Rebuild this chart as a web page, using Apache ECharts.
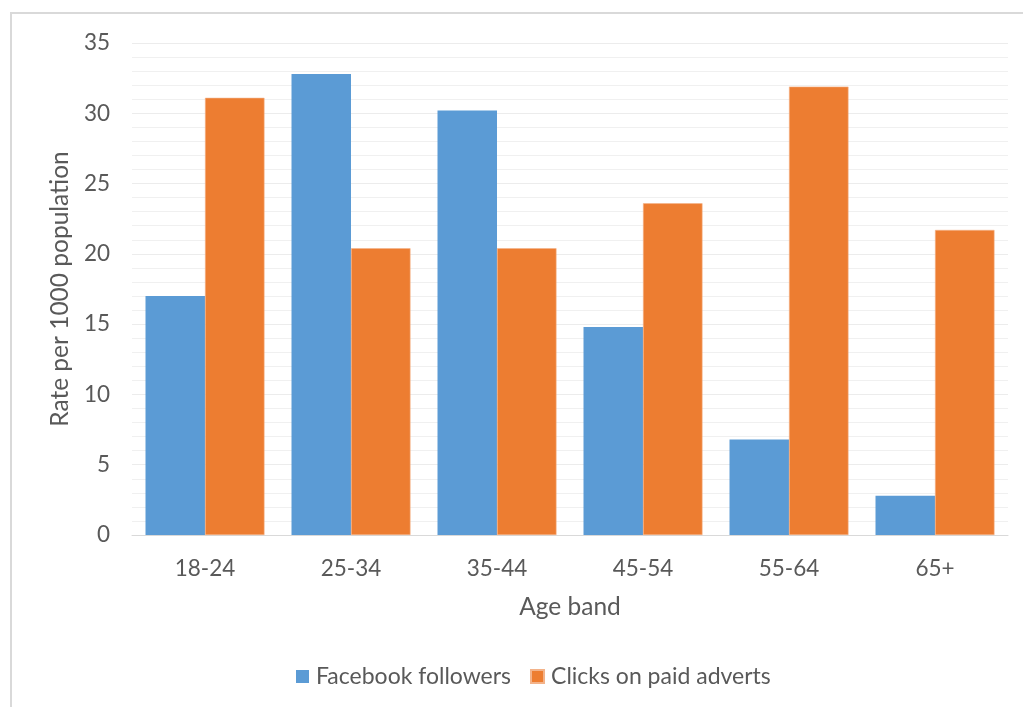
<!DOCTYPE html>
<html>
<head>
<meta charset="utf-8">
<script src="https://cdn.jsdelivr.net/npm/echarts@6/dist/echarts.min.js"></script>
<style>
  html, body { margin: 0; padding: 0; background: #fff; }
  #chart { width: 1023px; height: 707px; }
</style>
</head>
<body>
<div id="chart"></div>
<script>
// Age bands and the two rates per 1000 population
const ageBands = ['18-24', '25-34', '35-44', '45-54', '55-64', '65+'];
const facebookFollowers = [17.0, 32.8, 30.2, 14.8, 6.8, 2.8];
const paidAdvertClicks = [31.1, 20.4, 20.4, 23.6, 31.9, 21.7];
const seriesNames = ['Facebook followers', 'Clicks on paid adverts'];

const FONT = 'Lato, "Open Sans", sans-serif';
const TEXT = '#595959';

const chart = echarts.init(document.getElementById('chart'), null, { renderer: 'canvas' });

chart.setOption({
  animation: false,
  textStyle: { fontFamily: FONT },
  graphic: [{
    type: 'rect',
    shape: { x: 11, y: 13, width: 1040, height: 720 },
    style: { fill: 'none', stroke: '#d9d9d9', lineWidth: 2 },
    silent: true,
    z: -1
  }],
  grid: { left: 132, right: 15, top: 43, bottom: 172 },
  legend: {
    bottom: 14,
    left: 291,
    itemWidth: 13,
    itemHeight: 13,
    itemGap: 19,
    icon: 'rect',
    textStyle: { color: TEXT, fontSize: 23, fontFamily: FONT, padding: [0, 0, 0, 2] },
    data: seriesNames
  },
  xAxis: {
    type: 'category',
    data: ageBands,
    name: 'Age band',
    nameLocation: 'middle',
    nameGap: 60,
    nameTextStyle: { color: TEXT, fontSize: 24.5, fontFamily: FONT },
    axisLine: { lineStyle: { color: '#d9d9d9', width: 1 } },
    axisTick: { show: false },
    axisLabel: { color: TEXT, fontSize: 22.5, margin: 22, fontFamily: FONT }
  },
  yAxis: {
    type: 'value',
    min: 0,
    max: 35,
    interval: 5,
    name: 'Rate per 1000 population',
    nameLocation: 'middle',
    nameGap: 58,
    nameRotate: 90,
    nameTextStyle: { color: TEXT, fontSize: 24.5, fontFamily: FONT },
    axisLine: { show: false },
    axisTick: { show: false },
    axisLabel: { color: TEXT, fontSize: 22.5, margin: 22, fontFamily: FONT },
    splitLine: { lineStyle: { color: '#ececec', width: 1 } },
    minorTick: { show: false, splitNumber: 5 },
    minorSplitLine: { show: true, lineStyle: { color: '#f0f0f0', width: 1 } }
  },
  series: [
    {
      name: seriesNames[0],
      type: 'bar',
      data: facebookFollowers,
      barGap: '0%',
      barCategoryGap: '18.5%',
      itemStyle: { color: '#5b9bd5' }
    },
    {
      name: seriesNames[1],
      type: 'bar',
      data: paidAdvertClicks,
      barGap: '0%',
      barCategoryGap: '18.5%',
      itemStyle: { color: '#ed7d31', borderColor: '#f3b38a', borderWidth: 0.6 }
    }
  ]
});
</script>
</body>
</html>
